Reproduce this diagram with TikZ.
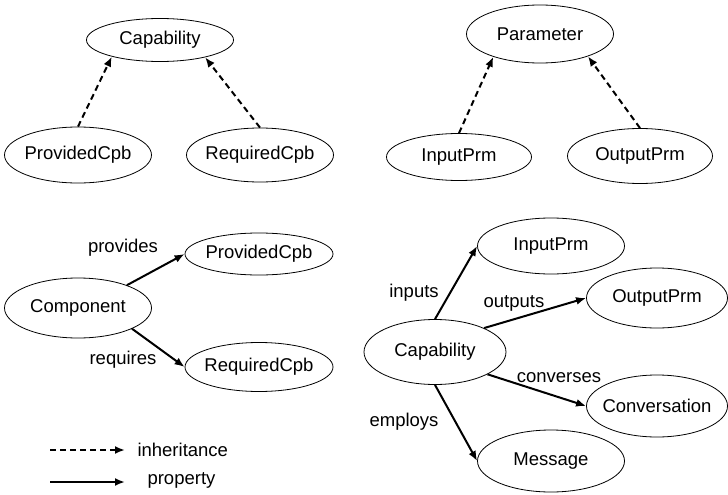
\documentclass[tikz,border=0pt]{standalone}
\usepackage{fontspec}
\setmainfont{Liberation Sans}
\usetikzlibrary{shapes.geometric,arrows.meta}

\begin{document}
\begin{tikzpicture}[x=1pt,y=-1pt,>={Latex[length=10pt,width=8pt]},
        every node/.style={font=\fontsize{18.5}{22}\selectfont},
        concept/.style={ellipse,draw,line width=0.8pt,inner xsep=-12pt,inner ysep=0pt,
                        minimum width=147pt,minimum height=#1},
        concept/.default=54pt,
        isa/.style={->,line width=2pt,dash pattern=on 6pt off 4pt},
        prop/.style={->,line width=2pt}]
        \useasboundingbox (0,0) rectangle (728,495);

        % inheritance of the capabilities
        \node[concept=43pt] (cap) at (160,40) {Capability};
        \node[concept=56pt] (pcpb) at (78,155) {ProvidedCpb};
        \node[concept=54pt] (rcpb) at (260,155) {RequiredCpb};
        \draw[isa] (pcpb.north) -- (cap.199);
        \draw[isa] (rcpb.north) -- (cap.339);

        % inheritance of the parameters
        \node[concept=58pt] (prm) at (540,34) {Parameter};
        \node[concept=47pt,minimum width=145pt] (iprm) at (459,157) {InputPrm};
        \node[concept=55pt,minimum width=145pt] (oprm) at (640,156) {OutputPrm};
        \draw[isa] (iprm.north) -- (prm.206);
        \draw[isa] (oprm.north) -- (prm.335);

        % properties of a component
        \node[concept=60pt] (comp) at (78,308) {Component};
        \node[concept=42pt,minimum width=148pt] (pcpb2) at (259,254) {ProvidedCpb};
        \node[concept=49pt,minimum width=148pt] (rcpb2) at (259,367) {RequiredCpb};
        \draw[prop] (comp.25) -- (pcpb2.west);
        \draw[prop] (comp.339) -- (rcpb2.west);
        \node (lprov) at (123,248) {provides};
        \node (lreq) at (123,360) {requires};

        % properties of a capability
        \node[concept=65pt,minimum width=142pt] (cap2) at (435,352) {Capability};
        \node[concept=56pt] (iprm2) at (551,246) {InputPrm};
        \node[concept=60pt,minimum width=141pt] (oprm2) at (657,298) {OutputPrm};
        \node[concept=62pt,minimum width=141pt] (conv) at (657,406) {Conversation};
        \node[concept=62pt] (msg) at (551,461) {Message};
        \draw[prop] (cap2.north) -- (iprm2.west);
        \draw[prop] (cap2.26) -- (oprm2.west);
        \draw[prop] (cap2.337) -- (conv.west);
        \draw[prop] (cap2.south) -- (msg.west);
        \node (linp) at (414,293) {inputs};
        \node (lout) at (514,303) {outputs};
        \node (lconv) at (559,378) {converses};
        \node (lemp) at (404,422) {employs};

        % the legend
        \coordinate (inhA) at (50,450);
        \coordinate (inhB) at (125,450);
        \coordinate (propA) at (50,482);
        \coordinate (propB) at (125,482);
        \draw[isa] (inhA) -- (inhB);
        \draw[prop] (propA) -- (propB);
        \node[anchor=west] (linh) at (134,450) {inheritance};
        \node[anchor=west] (lprop) at (144,480) {property};
\end{tikzpicture}
\end{document}
